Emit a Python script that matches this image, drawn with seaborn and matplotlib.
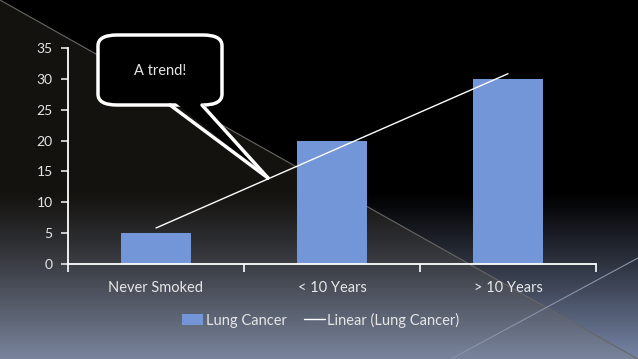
import numpy as np
import matplotlib
matplotlib.use("Agg")
import matplotlib.pyplot as plt
import seaborn as sns
from matplotlib.patches import FancyBboxPatch, Polygon, Patch
from matplotlib.lines import Line2D

# data
categories = ["Never Smoked", "< 10 Years", "> 10 Years"]
lung_cancer = [5, 20, 30]
series_name = "Lung Cancer"
trend_name = "Linear (Lung Cancer)"
callout_text = "A trend!"
y_ticks = [0, 5, 10, 15, 20, 25, 30, 35]

BAR = "#7396d8"
TXT = "#e6e6e6"
W, H = 638, 359

sns.set_theme(style="white")
plt.rcParams["font.family"] = ["Lato", "DejaVu Sans"]

fig = plt.figure(figsize=(W / 100, H / 100), dpi=100)
fig.patch.set_facecolor("black")

# slide background: black top, blue-grey gradient at bottom, lighter left triangle
bg = fig.add_axes([0, 0, 1, 1], zorder=-5)
yy, xx = np.mgrid[0:H, 0:W].astype(float)
t = np.clip((yy - 190) / (H - 190), 0, 1) ** 1.15
bottom = np.array([120, 135, 168]) / 255
img = t[..., None] * bottom
tri = yy > xx * H / W
img[tri] = img[tri] * 0.85 + np.array([20, 18, 14]) / 255
bg.imshow(img, extent=[0, W, H, 0], aspect="auto", interpolation="bilinear")
bg.plot([0, W], [0, H], color="#666666", lw=0.8)
bg.plot([451, W], [H, 258], color="#8a93a8", lw=0.8)
bg.set_xlim(0, W)
bg.set_ylim(H, 0)
bg.axis("off")

ax = fig.add_axes([68 / W, 1 - 264 / H, (596 - 68) / W, (264 - 48) / H])
ax.set_facecolor("none")

sns.barplot(x=categories, y=lung_cancer, color=BAR, width=0.4, saturation=1,
            edgecolor="none", linewidth=0, ax=ax)

# linear trendline fitted to the series
xs = np.arange(len(lung_cancer))
slope, icpt = np.polyfit(xs, lung_cancer, 1)
ax.plot(xs, slope * xs + icpt, color="white", lw=1)

ax.set_xlim(-0.5, len(categories) - 0.5)
ax.set_ylim(0, 35)
ax.set_yticks(y_ticks)
ax.set_xlabel("")
ax.set_ylabel("")
for s in ["top", "right"]:
    ax.spines[s].set_visible(False)
for s in ["left", "bottom"]:
    ax.spines[s].set_color("white")
    ax.spines[s].set_linewidth(1.3)
ax.tick_params(axis="y", colors=TXT, labelsize=10, length=5, width=1.2, direction="out", left=True, pad=6)
ax.tick_params(axis="x", which="major", length=0, labelsize=10.5, labelcolor=TXT, pad=12)
ax.set_xticks(np.arange(-0.5, len(categories)), minor=True)
ax.tick_params(axis="x", which="minor", length=6, width=1.2, color="white", direction="out", bottom=True)
for lbl in ax.get_yticklabels():
    lbl.set_color(TXT)

handles = [Patch(facecolor=BAR, edgecolor="none"), Line2D([], [], color="white", lw=1)]
fig.legend(handles, [series_name, trend_name], loc="center", bbox_to_anchor=(321 / W, 1 - 320 / H),
           ncol=2, frameon=False, fontsize=10.5, labelcolor=TXT, handlelength=1.4,
           handletextpad=0.2, columnspacing=1.2, handleheight=0.8)

# speech-bubble callout (pixel coords from top-left)
def fx(x):
    return x / W

def fy(y):
    return 1 - y / H

box = FancyBboxPatch((fx(98), fy(105)), fx(222) - fx(98), fy(35) - fy(105),
                     boxstyle="round,pad=0,rounding_size=0.03", transform=fig.transFigure,
                     facecolor="black", edgecolor="white", lw=2.5, zorder=10)
fig.patches.append(box)
tail = Polygon([(fx(172), fy(100)), (fx(200), fy(100)), (fx(268), fy(178))], closed=True,
               transform=fig.transFigure, facecolor="black", edgecolor="none", zorder=11)
fig.patches.append(tail)
for x0 in (170, 202):
    fig.lines.append(Line2D([fx(x0), fx(268)], [fy(105), fy(178)], transform=fig.transFigure,
                            color="white", lw=2.5, zorder=12, solid_capstyle="round"))
fig.text(fx(160), fy(71), callout_text, color=TXT, fontsize=10.5, ha="center", va="center", zorder=13)

fig.savefig("out.png", dpi=100, facecolor=fig.get_facecolor())
